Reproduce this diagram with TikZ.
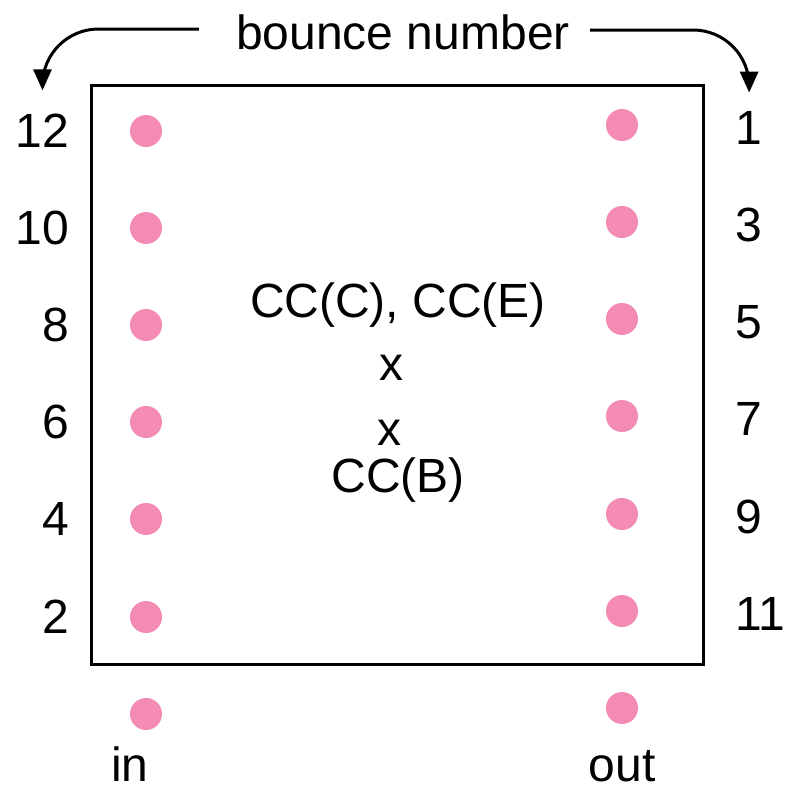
\documentclass[tikz,border=0pt]{standalone}
\usepackage{fontspec}
\setmainfont{Liberation Sans}
\usepackage{xcolor}
\usetikzlibrary{
    arrows.meta,
    positioning
}
\definecolor{dotpink}{RGB}{243,139,180}

\begin{document}
\begin{tikzpicture}[
        x=0.5pt, y=-0.5pt,
        font=\fontsize{24}{29}\selectfont,
        box/.style={
            draw,
            line width=1.5pt,
            minimum width=306pt,
            minimum height=289.5pt,
            inner sep=0pt
        },
        spot/.style={
            circle,
            fill=dotpink,
            minimum size=16pt,
            inner sep=0pt
        },
        num/.style={
            inner sep=0pt
        },
        line/.style={
            -{Triangle[length=10.5pt,width=9pt]},
            line width=1.5pt,
            rounded corners=28pt
        }
    ]

    \useasboundingbox (0,0) rectangle (788,789);

    \node[box] (chamber) at (397,374.5) {};

    % incoming side
    \node[spot] (b12) at (146,131) {};
    \node[spot] (b10) at (146,228) {};
    \node[spot] (b8) at (146,325) {};
    \node[spot] (b6) at (146,422) {};
    \node[spot] (b4) at (146,519) {};
    \node[spot] (b2) at (146,617) {};
    \node[spot] (entry) at (146,714) {};

    \node[num, left=30pt of b12] (n12) {12};
    \node[num, left=30pt of b10] (n10) {10};
    \node[num, left=30pt of b8] (n8) {8};
    \node[num, left=30pt of b6] (n6) {6};
    \node[num, left=30pt of b4] (n4) {4};
    \node[num, left=30pt of b2] (n2) {2};
    \node[num, below=8pt of entry, xshift=-8pt] (inlabel) {in};

    % outgoing side
    \node[spot] (b1) at (622,125) {};
    \node[spot] (b3) at (622,222) {};
    \node[spot] (b5) at (622,319) {};
    \node[spot] (b7) at (622,416) {};
    \node[spot] (b9) at (622,514) {};
    \node[spot] (b11) at (622,611) {};
    \node[spot] (exit) at (622,708) {};

    \node[num, right=48.5pt of b1, yshift=-1.5pt] (n1) {1};
    \node[num, right=48.5pt of b3, yshift=-1.5pt] (n3) {3};
    \node[num, right=48.5pt of b5, yshift=-1.5pt] (n5) {5};
    \node[num, right=48.5pt of b7, yshift=-1.5pt] (n7) {7};
    \node[num, right=48.5pt of b9, yshift=-1.5pt] (n9) {9};
    \node[num, right=48.5pt of b11, yshift=-1.5pt] (n11) {11};
    \node[num, below=13pt of exit] (outlabel) {out};

    % middle
    \node[num] (ccce) at (398,305) {CC(C), CC(E)};
    \node[num] (times1) at (391,368) {x};
    \node[num] (times2) at (389,433) {x};
    \node[num] (ccb) at (398,480) {CC(B)};

    % bounce number
    \node[num] (title) at (403,32.5) {bounce number};

    \draw[line, shorten <=18.5pt, shorten >=11.75pt]
        ([yshift=1.75pt]title.west) -| (n12.north);
    \draw[line, shorten <=10pt, shorten >=9.25pt]
        ([yshift=1.25pt]title.east) -| (n1.north);

\end{tikzpicture}
\end{document}
